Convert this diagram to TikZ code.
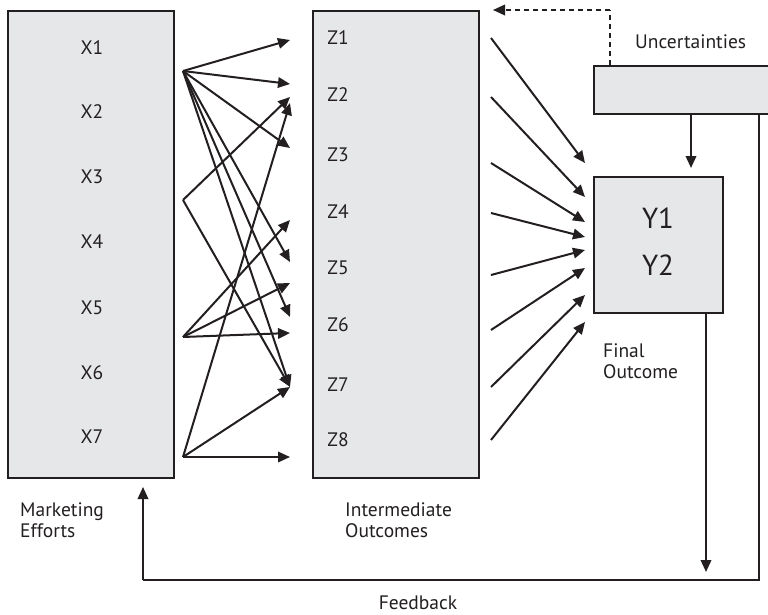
\documentclass[tikz,border=0pt]{standalone}
\usepackage{fontspec}
\setmainfont{PT Sans}
\usetikzlibrary{arrows.meta}
\definecolor{boxfill}{HTML}{E6E7E8}
\definecolor{ink}{HTML}{231F20}
\begin{document}
\begin{tikzpicture}[x=1pt,y=-1pt,
  box/.style={draw=ink,fill=boxfill,line width=2.2pt,inner sep=0pt,anchor=north west},
  arr/.style={draw=ink,line width=2pt,-{Triangle[length=12pt,width=10.5pt]}},
  lbl/.style={font=\fontsize{19.5}{21.5}\selectfont,text=ink,align=left,inner sep=0pt},
  big/.style={font=\fontsize{29}{32}\selectfont,text=ink,inner sep=0pt}]
\useasboundingbox (0,0) rectangle (768,615);
% boxes
\node[box,minimum width=166pt,minimum height=467pt] (X) at (7,10) {};
\node[box,minimum width=166pt,minimum height=467pt] (Z) at (312,10) {};
\node[box,minimum width=129pt,minimum height=136pt] (Y) at (593,176) {};
\node[box,minimum width=185pt,minimum height=48pt] (U) at (593,65) {};
% labels in boxes
\foreach \i/\y in {1/48,2/112,3/177,4/242,5/308,6/373,7/437}
  \node[lbl] (x\i) at (92,\y) {X\i};
\foreach \i/\y in {1/38,2/95,3/155,4/212,5/268,6/325,7/385,8/440}
  \node[lbl] (z\i) at (338,\y) {Z\i};
\node[big] (y1) at (658,218) {Y1};
\node[big] (y2) at (658,265) {Y2};
% captions
\node[lbl,anchor=west] (unct) at (635,42) {Uncertainties};
\node[lbl,anchor=north west] (fin) at (603,343) {Final\\Outcome};
\node[lbl,anchor=north west] (mkt) at (20,502) {Marketing\\Efforts};
\node[lbl,anchor=north west] (int) at (345,502) {Intermediate\\Outcomes};
\node[lbl] (fb) at (418,603) {Feedback};
% origins of X arrows
\coordinate (o1) at (183,71);
\coordinate (o3) at (183,200);
\coordinate (o5) at (183,337);
\coordinate (o7) at (183,457);
% targets at Z side
\foreach \t in {40,84,148,262,317,387} \draw[arr] (o1) -- (290,\t);
\foreach \t in {97,387} \draw[arr] (o3) -- (290,\t);
\foreach \t in {220,283,333} \draw[arr] (o5) -- (290,\t);
\foreach \t in {103,387,457} \draw[arr] (o7) -- (290,\t);
% Z to Y arrows
\foreach \s/\t in {38/163,97/197,163/222,213/237,275/250,330/268,387/295,440/322}
  \draw[arr] (491,\s) -- (585,\t);
% uncertainty to Y
\draw[arr] (U.south west -| 691,0) -- (691,168);
% dashed feedback from uncertainties
\coordinate (dtop) at (610,10);
\coordinate (dend) at (493,10);
\draw[ink,line width=2pt,dash pattern=on 5pt off 4pt] (610,65) -- (dtop);
\draw[arr,dash pattern=on 5pt off 4pt] (dtop) -- (dend);
% Y down arrow
\coordinate (ydown) at (706,572);
\draw[arr] (Y.south -| 706,0) -- (ydown);
% feedback loop
\coordinate (fr) at (759,580);
\coordinate (fl) at (143,580);
\coordinate (fup) at (143,487);
\draw[ink,line width=2pt] (U.south -| 759,0) -- (fr) -- (fl);
\draw[arr] (fl) -- (fup);
\end{tikzpicture}
\end{document}
